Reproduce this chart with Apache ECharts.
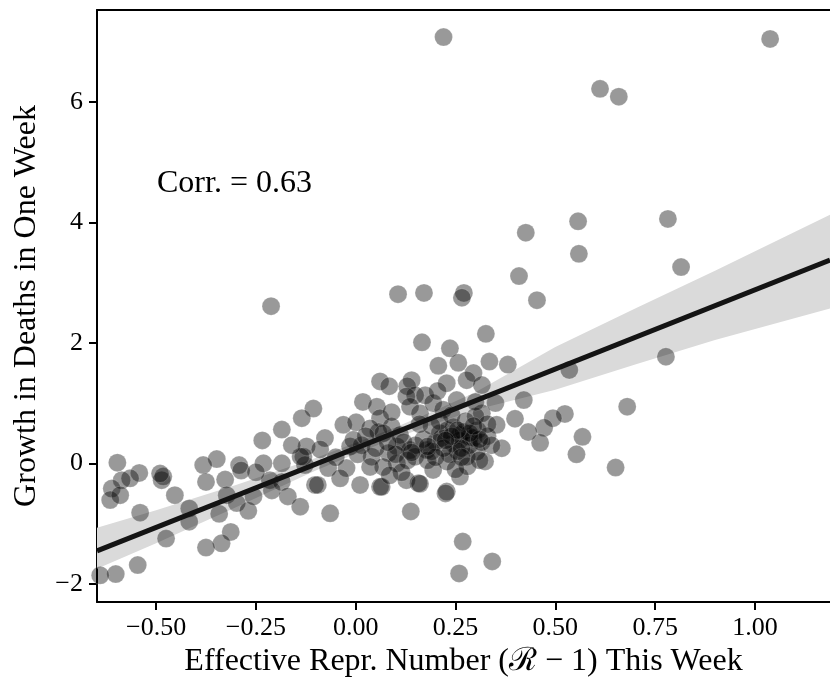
<!DOCTYPE html>
<html>
<head>
<meta charset="utf-8">
<script src="https://cdn.jsdelivr.net/npm/echarts@6/dist/echarts.min.js"></script>
<style>
html,body{margin:0;padding:0;background:#fff;}
#chart{width:830px;height:684px;}
</style>
</head>
<body>
<div id="chart"></div>
<script>
// Scatter points: effective reproduction number (R-1) vs growth in deaths
const rValues = [
 0.220,1.038,0.612,0.659,0.557,0.782,0.426,0.559,0.815,0.409,
 0.454,-0.212,0.106,0.171,0.271,0.266,0.326,0.166,0.236,0.257,
 0.207,0.335,0.381,0.535,0.295,0.140,0.777,0.680,0.524,0.494,
 0.472,0.462,0.568,0.553,0.651,0.421,0.432,0.399,0.353,0.366,
 0.316,0.324,0.061,0.084,0.129,0.278,0.228,0.316,0.174,0.149,
 0.127,0.018,0.053,-0.106,-0.135,-0.031,0.001,0.061,0.090,0.136,
 0.161,0.194,0.219,0.253,-0.077,-0.014,0.015,0.057,0.103,0.136,
 0.178,0.211,0.261,0.286,0.244,0.111,0.082,0.040,0.103,0.149,
 0.228,0.278,0.303,0.069,0.036,-0.023,-0.006,-0.131,-0.123,-0.069,
 -0.039,-0.102,0.011,0.061,0.127,0.157,0.194,0.228,0.261,0.036,
 0.069,-0.089,-0.127,-0.185,-0.234,-0.138,-0.185,-0.231,-0.292,-0.287,
 -0.348,-0.382,-0.375,-0.327,-0.323,-0.298,-0.342,-0.313,-0.336,-0.375,
 -0.215,-0.185,-0.170,-0.139,-0.095,-0.064,-0.269,-0.256,-0.417,-0.417,
 -0.453,-0.486,-0.482,-0.540,-0.475,-0.542,-0.565,-0.586,-0.597,-0.611,
 -0.615,-0.590,-0.546,-0.601,-0.640,-0.490,0.138,0.268,0.342,0.259,
 0.225,0.065,0.161,0.200,0.215,0.230,0.245,0.260,0.270,0.285,
 0.295,0.305,0.315,0.255,0.235,0.190,0.170,0.150,0.120,0.100,
 0.130,0.180,0.210,0.190,0.240,0.275,0.300,0.330,0.340,0.280,
 0.310,0.050,0.025,0.080,0.005,-0.050,0.160,0.265,0.220,0.115,
 0.085,0.250,0.330,0.350,0.300,-0.160,-0.250,-0.210,0.090,0.205,
 0.240,0.285,0.265,0.310,0.200,0.180,0.140,0.255,0.295,0.225
];
const deathGrowth = [
 7.08,7.05,6.22,6.09,4.02,4.06,3.83,3.48,3.26,3.11,
 2.71,2.61,2.81,2.83,2.83,2.75,2.15,2.01,1.91,1.67,
 1.62,1.69,1.64,1.55,1.50,1.38,1.77,0.94,0.82,0.75,
 0.59,0.34,0.44,0.15,-0.07,1.05,0.52,0.74,0.64,0.25,
 0.83,0.03,1.36,1.28,1.28,1.38,1.33,1.30,1.13,1.13,
 1.11,1.02,0.94,0.91,0.75,0.64,0.68,0.75,0.61,0.94,
 0.83,1.00,0.89,1.05,0.42,0.28,0.30,0.52,0.28,0.22,
 0.22,0.50,0.47,0.44,0.33,0.47,0.17,0.11,0.00,0.11,
 0.03,0.11,0.19,-0.06,-0.06,-0.08,0.39,0.11,0.28,-0.08,
 -0.25,-0.36,-0.36,-0.39,-0.28,-0.33,-0.11,-0.47,-0.22,0.58,
 0.50,0.23,-0.03,0.56,0.38,0.11,0.00,0.00,-0.03,-0.12,
 0.07,-0.03,-0.31,-0.27,-0.53,-0.66,-0.84,-1.14,-1.33,-1.40,
 -0.28,-0.31,-0.55,-0.72,-0.36,-0.83,-0.79,-0.55,-0.75,-0.97,
 -0.53,-0.28,-0.22,-0.82,-1.25,-0.16,-0.25,-0.28,0.01,-0.42,
 -0.61,-0.53,-1.69,-1.84,-1.86,-0.17,-0.80,-1.30,-1.63,-1.83,
 -0.50,-0.39,-0.34,0.35,0.42,0.55,0.60,0.38,0.52,0.30,
 0.42,0.55,0.35,0.20,0.15,0.20,0.40,0.30,0.35,0.15,
 0.05,0.05,0.70,0.62,0.80,0.70,0.78,0.45,0.30,-0.05,
 0.05,0.25,0.45,0.35,0.15,0.10,0.65,0.25,0.25,-0.15,
 -0.20,-0.10,0.65,1.00,1.02,0.30,-0.15,-0.45,0.85,1.20,
 0.45,0.50,0.10,0.40,0.10,0.28,0.18,0.55,0.62,0.38
];

// Fitted regression line
const fitIntercept = 0.25;
const fitSlope = 2.63;

// Confidence band
const bandX     = [-0.648,-0.5,-0.3,-0.1,0.0,0.1,0.2,0.3,0.5,0.7,0.9,1.188];
const bandUpper = [-1.07,-0.78,-0.36,0.09,0.34,0.60,0.88,1.18,1.93,2.57,3.20,4.13];
const bandLower = [-1.75,-1.33,-0.73,-0.12,0.16,0.42,0.66,0.89,1.22,1.64,2.05,2.57];

// Axes
const xMin = -0.648, xMax = 1.188;
const yMin = -2.304, yMax = 7.53;
const xTicks = [-0.5,-0.25,0,0.25,0.5,0.75,1.0];
const yTicks = [-2,0,2,4,6];
const xTitle = 'Effective Repr. Number (\u211B \u2212 1) This Week';
const yTitle = 'Growth in Deaths in One Week';
const corrText = 'Corr. = 0.63';

const FONT = '"Liberation Serif", "DejaVu Serif", serif';

const scatterData = rValues.map((x, i) => [x, deathGrowth[i]]);
const lineData = [[xMin, fitIntercept + fitSlope * xMin], [xMax, fitIntercept + fitSlope * xMax]];
const bandData = bandX.map((x, i) => [x, bandLower[i], bandUpper[i]]);

function fmtX(v){
  const s = Math.abs(v).toFixed(2);
  return (v < 0 ? '\u2212' : '') + s;
}
function fmtY(v){
  return (v < 0 ? '\u2212' : '') + Math.abs(v).toFixed(0);
}

const chart = echarts.init(document.getElementById('chart'), null, {renderer:'canvas'});
chart.setOption({
  animation: false,
  backgroundColor: '#ffffff',
  grid: {left: 97, right: 0, top: 10, bottom: 82, containLabel: false},
  xAxis: [{
    type: 'value', min: xMin, max: xMax, position: 'bottom',
    axisLine: {show: true, onZero: false, lineStyle: {color: '#000', width: 2}},
    axisTick: {show: true, length: 8, lineStyle: {color: '#000', width: 2}, customValues: xTicks},
    axisLabel: {color: '#000', fontFamily: FONT, fontSize: 26, margin: 13, customValues: xTicks, formatter: fmtX},
    splitLine: {show: false},
    name: xTitle, nameLocation: 'middle', nameGap: 40,
    nameTextStyle: {color: '#000', fontFamily: FONT, fontSize: 32}
  }, {
    type: 'value', min: xMin, max: xMax, position: 'top',
    axisLine: {show: true, onZero: false, lineStyle: {color: '#000', width: 2}},
    axisTick: {show: false}, axisLabel: {show: false}, splitLine: {show: false}
  }],
  yAxis: {
    type: 'value', min: yMin, max: yMax,
    axisLine: {show: true, onZero: false, lineStyle: {color: '#000', width: 2}},
    axisTick: {show: true, length: 8, lineStyle: {color: '#000', width: 2}, customValues: yTicks},
    axisLabel: {color: '#000', fontFamily: FONT, fontSize: 26, margin: 14, customValues: yTicks, formatter: fmtY},
    splitLine: {show: false},
    name: yTitle, nameLocation: 'middle', nameGap: 54,
    nameTextStyle: {color: '#000', fontFamily: FONT, fontSize: 32}
  },
  series: [{
    type: 'custom',
    data: bandData,
    silent: true,
    z: 1,
    renderItem: function(params, api){
      if (params.dataIndex !== 0) return null;
      const pts = [];
      for (let i = 0; i < bandData.length; i++) pts.push(api.coord([bandData[i][0], bandData[i][2]]));
      for (let i = bandData.length - 1; i >= 0; i--) pts.push(api.coord([bandData[i][0], bandData[i][1]]));
      return {type: 'polygon', shape: {points: pts}, style: {fill: '#dadada', stroke: null}};
    },
    encode: {x: 0, y: [1, 2]}
  }, {
    type: 'scatter',
    data: scatterData,
    symbolSize: 18,
    z: 2,
    itemStyle: {color: 'rgba(0,0,0,0.5)', borderColor: 'rgba(255,255,255,0.35)', borderWidth: 0.6}
  }, {
    type: 'line',
    data: lineData,
    symbol: 'none',
    z: 3,
    lineStyle: {color: '#141414', width: 5}
  }],
  graphic: [{
    type: 'text', left: 157, top: 168, z: 10,
    style: {text: corrText, font: '32px "Liberation Serif", serif', fill: '#000'}
  }]
});
</script>
</body>
</html>
